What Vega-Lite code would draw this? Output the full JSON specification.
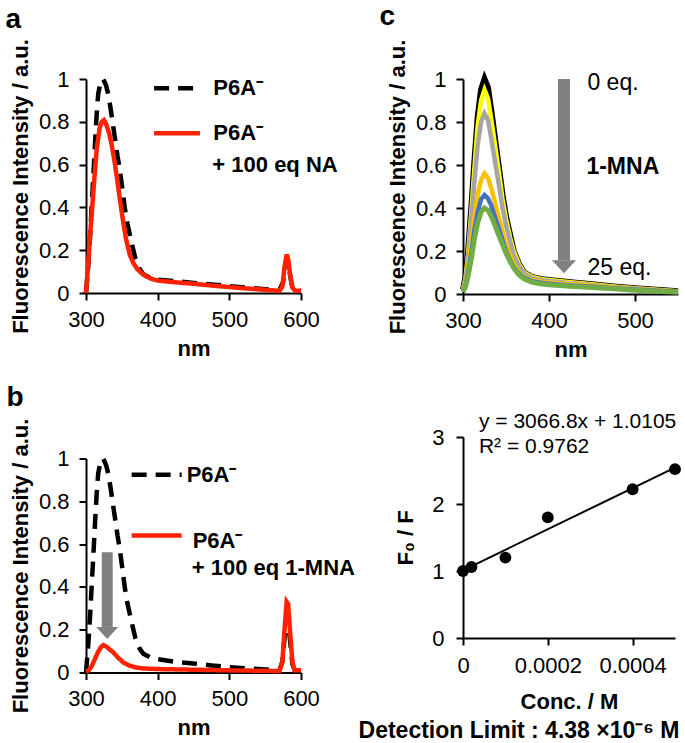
{
  "$schema": "https://vega.github.io/schema/vega-lite/v6.json",
  "padding": {"left": 5, "top": 3, "right": 0, "bottom": 0},
  "config": {
    "font": "Liberation Sans",
    "view": {"stroke": null},
    "axis": {"grid": false, "domainColor": "#000", "domainWidth": 2, "tickColor": "#000", "tickWidth": 2, "tickSize": 7, "labelFontSize": 22, "labelColor": "#000", "titleFontSize": 22, "titleFontWeight": "bold", "titleColor": "#000", "labelFont": "Liberation Sans", "titleFont": "Liberation Sans"},
    "axisX": {"labelPadding": 9, "titlePadding": 8, "labelFlush": false, "labelOverlap": false},
    "axisY": {"labelPadding": 10, "titlePadding": 6, "labelOverlap": false},
    "title": {"fontSize": 28, "fontWeight": "bold", "anchor": "start", "frame": "bounds", "color": "#000", "font": "Liberation Sans"},
    "text": {"font": "Liberation Sans", "color": "#000"}
  },
  "datasets": {
    "la": [
      {"s":"P6A","nm":300,"v":0},{"s":"P6A","nm":303,"v":0.12},{"s":"P6A","nm":306,"v":0.28},{"s":"P6A","nm":308,"v":0.41},{"s":"P6A","nm":310,"v":0.53},{"s":"P6A","nm":312.6,"v":0.7},{"s":"P6A","nm":315,"v":0.84},{"s":"P6A","nm":317,"v":0.93},{"s":"P6A","nm":320,"v":0.98},{"s":"P6A","nm":324,"v":1.0},{"s":"P6A","nm":328,"v":0.97},{"s":"P6A","nm":331,"v":0.93},{"s":"P6A","nm":334,"v":0.87},{"s":"P6A","nm":337,"v":0.8},{"s":"P6A","nm":341,"v":0.71},{"s":"P6A","nm":344,"v":0.64},{"s":"P6A","nm":347,"v":0.58},{"s":"P6A","nm":351,"v":0.48},{"s":"P6A","nm":354,"v":0.4},{"s":"P6A","nm":358,"v":0.32},{"s":"P6A","nm":364,"v":0.23},{"s":"P6A","nm":369,"v":0.16},{"s":"P6A","nm":375,"v":0.11},{"s":"P6A","nm":380,"v":0.088},{"s":"P6A","nm":390,"v":0.07},{"s":"P6A","nm":400,"v":0.062},{"s":"P6A","nm":425,"v":0.055},{"s":"P6A","nm":450,"v":0.047},{"s":"P6A","nm":475,"v":0.04},{"s":"P6A","nm":500,"v":0.032},{"s":"P6A","nm":525,"v":0.025},{"s":"P6A","nm":550,"v":0.018},{"s":"P6A","nm":570,"v":0.013},{"s":"P6A","nm":575,"v":0.05},{"s":"P6A","nm":578,"v":0.13},{"s":"P6A","nm":580,"v":0.16},{"s":"P6A","nm":583,"v":0.12},{"s":"P6A","nm":587,"v":0.04},{"s":"P6A","nm":590,"v":0.015},{"s":"P6A","nm":600,"v":0.01},
      {"s":"Q","nm":300,"v":0},{"s":"Q","nm":303,"v":0.13},{"s":"Q","nm":305,"v":0.24},{"s":"Q","nm":308,"v":0.37},{"s":"Q","nm":312,"v":0.55},{"s":"Q","nm":315,"v":0.675},{"s":"Q","nm":319,"v":0.77},{"s":"Q","nm":322,"v":0.8},{"s":"Q","nm":325,"v":0.808},{"s":"Q","nm":328,"v":0.79},{"s":"Q","nm":332,"v":0.75},{"s":"Q","nm":336,"v":0.69},{"s":"Q","nm":340,"v":0.61},{"s":"Q","nm":344,"v":0.52},{"s":"Q","nm":348,"v":0.42},{"s":"Q","nm":352,"v":0.33},{"s":"Q","nm":356,"v":0.25},{"s":"Q","nm":361,"v":0.18},{"s":"Q","nm":366,"v":0.14},{"s":"Q","nm":372,"v":0.11},{"s":"Q","nm":380,"v":0.085},{"s":"Q","nm":390,"v":0.068},{"s":"Q","nm":400,"v":0.058},{"s":"Q","nm":425,"v":0.05},{"s":"Q","nm":450,"v":0.043},{"s":"Q","nm":475,"v":0.035},{"s":"Q","nm":500,"v":0.028},{"s":"Q","nm":525,"v":0.021},{"s":"Q","nm":550,"v":0.015},{"s":"Q","nm":570,"v":0.01},{"s":"Q","nm":574,"v":0.03},{"s":"Q","nm":577,"v":0.12},{"s":"Q","nm":580,"v":0.18},{"s":"Q","nm":582,"v":0.16},{"s":"Q","nm":585,"v":0.08},{"s":"Q","nm":588,"v":0.025},{"s":"Q","nm":592,"v":0.01},{"s":"Q","nm":600,"v":0.01}
    ],
    "lb": [
      {"s":"P6A","nm":300,"v":0},{"s":"P6A","nm":303,"v":0.12},{"s":"P6A","nm":306,"v":0.28},{"s":"P6A","nm":308,"v":0.41},{"s":"P6A","nm":310,"v":0.53},{"s":"P6A","nm":312.6,"v":0.7},{"s":"P6A","nm":315,"v":0.84},{"s":"P6A","nm":317,"v":0.93},{"s":"P6A","nm":320,"v":0.98},{"s":"P6A","nm":324,"v":1.0},{"s":"P6A","nm":328,"v":0.97},{"s":"P6A","nm":331,"v":0.93},{"s":"P6A","nm":334,"v":0.87},{"s":"P6A","nm":337,"v":0.8},{"s":"P6A","nm":341,"v":0.71},{"s":"P6A","nm":344,"v":0.64},{"s":"P6A","nm":347,"v":0.58},{"s":"P6A","nm":351,"v":0.48},{"s":"P6A","nm":354,"v":0.4},{"s":"P6A","nm":358,"v":0.32},{"s":"P6A","nm":364,"v":0.23},{"s":"P6A","nm":369,"v":0.16},{"s":"P6A","nm":375,"v":0.11},{"s":"P6A","nm":380,"v":0.088},{"s":"P6A","nm":390,"v":0.07},{"s":"P6A","nm":400,"v":0.062},{"s":"P6A","nm":425,"v":0.05},{"s":"P6A","nm":450,"v":0.042},{"s":"P6A","nm":475,"v":0.033},{"s":"P6A","nm":500,"v":0.025},{"s":"P6A","nm":525,"v":0.019},{"s":"P6A","nm":550,"v":0.014},{"s":"P6A","nm":570,"v":0.012},{"s":"P6A","nm":574,"v":0.05},{"s":"P6A","nm":577,"v":0.16},{"s":"P6A","nm":580,"v":0.26},{"s":"P6A","nm":582,"v":0.25},{"s":"P6A","nm":585,"v":0.14},{"s":"P6A","nm":588,"v":0.04},{"s":"P6A","nm":591,"v":0.012},{"s":"P6A","nm":600,"v":0.01},
      {"s":"Q","nm":300,"v":0.005},{"s":"Q","nm":304,"v":0.01},{"s":"Q","nm":308,"v":0.03},{"s":"Q","nm":312,"v":0.06},{"s":"Q","nm":316,"v":0.09},{"s":"Q","nm":320,"v":0.115},{"s":"Q","nm":324,"v":0.128},{"s":"Q","nm":328,"v":0.122},{"s":"Q","nm":333,"v":0.108},{"s":"Q","nm":338,"v":0.094},{"s":"Q","nm":344,"v":0.072},{"s":"Q","nm":352,"v":0.047},{"s":"Q","nm":360,"v":0.033},{"s":"Q","nm":370,"v":0.023},{"s":"Q","nm":380,"v":0.019},{"s":"Q","nm":400,"v":0.016},{"s":"Q","nm":450,"v":0.013},{"s":"Q","nm":500,"v":0.01},{"s":"Q","nm":550,"v":0.008},{"s":"Q","nm":570,"v":0.007},{"s":"Q","nm":574,"v":0.05},{"s":"Q","nm":577,"v":0.2},{"s":"Q","nm":580,"v":0.33},{"s":"Q","nm":582,"v":0.32},{"s":"Q","nm":585,"v":0.18},{"s":"Q","nm":588,"v":0.05},{"s":"Q","nm":591,"v":0.01},{"s":"Q","nm":600,"v":0.01}
    ],
    "lc": [
      {"s":"k","nm":300,"v":0.02},{"s":"k","nm":303,"v":0.08},{"s":"k","nm":306,"v":0.2},{"s":"k","nm":310,"v":0.42},{"s":"k","nm":313,"v":0.6},{"s":"k","nm":317,"v":0.82},{"s":"k","nm":321,"v":0.95},{"s":"k","nm":325,"v":1.0},{"s":"k","nm":329,"v":0.96},{"s":"k","nm":333,"v":0.85},{"s":"k","nm":337,"v":0.73},{"s":"k","nm":342,"v":0.58},{"s":"k","nm":346,"v":0.46},{"s":"k","nm":350,"v":0.36},{"s":"k","nm":355,"v":0.27},{"s":"k","nm":359,"v":0.2},{"s":"k","nm":365,"v":0.14},{"s":"k","nm":371,"v":0.1},{"s":"k","nm":380,"v":0.08},{"s":"k","nm":390,"v":0.07},{"s":"k","nm":400,"v":0.065},{"s":"k","nm":425,"v":0.055},{"s":"k","nm":450,"v":0.045},{"s":"k","nm":475,"v":0.035},{"s":"k","nm":500,"v":0.027},{"s":"k","nm":525,"v":0.02},{"s":"k","nm":550,"v":0.013},
      {"s":"y","nm":300,"v":0.02},{"s":"y","nm":303,"v":0.075},{"s":"y","nm":306,"v":0.19},{"s":"y","nm":310,"v":0.4},{"s":"y","nm":313,"v":0.57},{"s":"y","nm":317,"v":0.78},{"s":"y","nm":321,"v":0.9},{"s":"y","nm":325,"v":0.95},{"s":"y","nm":329,"v":0.91},{"s":"y","nm":333,"v":0.81},{"s":"y","nm":337,"v":0.7},{"s":"y","nm":342,"v":0.56},{"s":"y","nm":346,"v":0.44},{"s":"y","nm":350,"v":0.35},{"s":"y","nm":355,"v":0.26},{"s":"y","nm":359,"v":0.2},{"s":"y","nm":365,"v":0.14},{"s":"y","nm":371,"v":0.1},{"s":"y","nm":380,"v":0.08},{"s":"y","nm":390,"v":0.07},{"s":"y","nm":400,"v":0.065},{"s":"y","nm":425,"v":0.055},{"s":"y","nm":450,"v":0.045},{"s":"y","nm":475,"v":0.035},{"s":"y","nm":500,"v":0.027},{"s":"y","nm":525,"v":0.02},{"s":"y","nm":550,"v":0.013},
      {"s":"g","nm":300,"v":0.02},{"s":"g","nm":303,"v":0.07},{"s":"g","nm":306,"v":0.17},{"s":"g","nm":310,"v":0.36},{"s":"g","nm":313,"v":0.51},{"s":"g","nm":317,"v":0.69},{"s":"g","nm":321,"v":0.8},{"s":"g","nm":325,"v":0.84},{"s":"g","nm":329,"v":0.81},{"s":"g","nm":333,"v":0.72},{"s":"g","nm":337,"v":0.62},{"s":"g","nm":342,"v":0.5},{"s":"g","nm":346,"v":0.4},{"s":"g","nm":350,"v":0.32},{"s":"g","nm":355,"v":0.24},{"s":"g","nm":359,"v":0.18},{"s":"g","nm":365,"v":0.13},{"s":"g","nm":371,"v":0.095},{"s":"g","nm":380,"v":0.075},{"s":"g","nm":390,"v":0.065},{"s":"g","nm":400,"v":0.06},{"s":"g","nm":425,"v":0.05},{"s":"g","nm":450,"v":0.042},{"s":"g","nm":475,"v":0.033},{"s":"g","nm":500,"v":0.026},{"s":"g","nm":525,"v":0.019},{"s":"g","nm":550,"v":0.012},
      {"s":"o","nm":300,"v":0.015},{"s":"o","nm":303,"v":0.05},{"s":"o","nm":306,"v":0.12},{"s":"o","nm":310,"v":0.25},{"s":"o","nm":313,"v":0.35},{"s":"o","nm":317,"v":0.46},{"s":"o","nm":321,"v":0.53},{"s":"o","nm":325,"v":0.56},{"s":"o","nm":329,"v":0.54},{"s":"o","nm":333,"v":0.49},{"s":"o","nm":337,"v":0.43},{"s":"o","nm":342,"v":0.35},{"s":"o","nm":346,"v":0.29},{"s":"o","nm":350,"v":0.23},{"s":"o","nm":355,"v":0.18},{"s":"o","nm":359,"v":0.14},{"s":"o","nm":365,"v":0.1},{"s":"o","nm":371,"v":0.08},{"s":"o","nm":380,"v":0.065},{"s":"o","nm":390,"v":0.058},{"s":"o","nm":400,"v":0.053},{"s":"o","nm":425,"v":0.045},{"s":"o","nm":450,"v":0.038},{"s":"o","nm":475,"v":0.03},{"s":"o","nm":500,"v":0.023},{"s":"o","nm":525,"v":0.017},{"s":"o","nm":550,"v":0.011},
      {"s":"b","nm":300,"v":0.012},{"s":"b","nm":303,"v":0.04},{"s":"b","nm":306,"v":0.1},{"s":"b","nm":310,"v":0.2},{"s":"b","nm":313,"v":0.29},{"s":"b","nm":317,"v":0.38},{"s":"b","nm":321,"v":0.44},{"s":"b","nm":325,"v":0.46},{"s":"b","nm":329,"v":0.445},{"s":"b","nm":333,"v":0.41},{"s":"b","nm":337,"v":0.36},{"s":"b","nm":342,"v":0.3},{"s":"b","nm":346,"v":0.25},{"s":"b","nm":350,"v":0.2},{"s":"b","nm":355,"v":0.155},{"s":"b","nm":359,"v":0.125},{"s":"b","nm":365,"v":0.095},{"s":"b","nm":371,"v":0.075},{"s":"b","nm":380,"v":0.06},{"s":"b","nm":390,"v":0.052},{"s":"b","nm":400,"v":0.048},{"s":"b","nm":425,"v":0.04},{"s":"b","nm":450,"v":0.034},{"s":"b","nm":475,"v":0.027},{"s":"b","nm":500,"v":0.021},{"s":"b","nm":525,"v":0.015},{"s":"b","nm":550,"v":0.01},
      {"s":"gr","nm":300,"v":0.01},{"s":"gr","nm":303,"v":0.035},{"s":"gr","nm":306,"v":0.085},{"s":"gr","nm":310,"v":0.17},{"s":"gr","nm":313,"v":0.25},{"s":"gr","nm":317,"v":0.33},{"s":"gr","nm":321,"v":0.38},{"s":"gr","nm":325,"v":0.4},{"s":"gr","nm":329,"v":0.39},{"s":"gr","nm":333,"v":0.36},{"s":"gr","nm":337,"v":0.32},{"s":"gr","nm":342,"v":0.27},{"s":"gr","nm":346,"v":0.23},{"s":"gr","nm":350,"v":0.19},{"s":"gr","nm":355,"v":0.15},{"s":"gr","nm":359,"v":0.12},{"s":"gr","nm":365,"v":0.09},{"s":"gr","nm":371,"v":0.07},{"s":"gr","nm":380,"v":0.055},{"s":"gr","nm":390,"v":0.047},{"s":"gr","nm":400,"v":0.043},{"s":"gr","nm":425,"v":0.036},{"s":"gr","nm":450,"v":0.03},{"s":"gr","nm":475,"v":0.024},{"s":"gr","nm":500,"v":0.018},{"s":"gr","nm":525,"v":0.013},{"s":"gr","nm":550,"v":0.008}
    ]
  },
  "spacing": 3,
  "hconcat": [
    {
      "bounds": "flush",
      "spacing": 165.5,
      "vconcat": [
        {
          "width": 215, "height": 214,
          "title": {"text": "a", "offset": 5, "dx": -4},
          "layer": [
            {
              "data": {"name": "la"},
              "mark": {"type": "line", "strokeWidth": 4.5},
              "encoding": {
                "x": {"field": "nm", "type": "quantitative", "title": "nm", "scale": {"domain": [300, 600], "nice": false}, "axis": {"values": [300, 400, 500, 600]}},
                "y": {"field": "v", "type": "quantitative", "title": "Fluorescence Intensity / a.u.", "scale": {"domain": [0, 1], "nice": false}, "axis": {"values": [0, 0.2, 0.4, 0.6, 0.8, 1], "format": "~g"}},
                "color": {"field": "s", "type": "nominal", "scale": {"domain": ["P6A", "Q"], "range": ["#000000", "#FF2200"]}, "legend": null},
                "strokeDash": {"field": "s", "type": "nominal", "scale": {"domain": ["P6A", "Q"], "range": [[15, 9], [1, 0]]}, "legend": null}
              }
            },
            {
              "data": {"values": [{"s": "P6A", "x1": 395, "x2": 459, "y": 0.957}, {"s": "Q", "x1": 395, "x2": 459, "y": 0.747}]},
              "mark": {"type": "rule", "strokeWidth": 4.5},
              "encoding": {
                "x": {"field": "x1", "type": "quantitative"},
                "x2": {"field": "x2"},
                "y": {"field": "y", "type": "quantitative"},
                "color": {"field": "s", "type": "nominal", "scale": {"domain": ["P6A", "Q"], "range": ["#000000", "#FF2200"]}, "legend": null},
                "strokeDash": {"field": "s", "type": "nominal", "scale": {"domain": ["P6A", "Q"], "range": [[15, 9], [1, 0]]}, "legend": null}
              }
            },
            {
              "data": {"values": [{"x": 477.7, "y": 0.957, "t": "P6A⁻"}, {"x": 477.7, "y": 0.747, "t": "P6A⁻"}, {"x": 476.3, "y": 0.6, "t": "+ 100 eq NA"}]},
              "mark": {"type": "text", "align": "left", "baseline": "middle", "fontSize": 22, "fontWeight": "bold"},
              "encoding": {
                "x": {"field": "x", "type": "quantitative"},
                "y": {"field": "y", "type": "quantitative"},
                "text": {"field": "t"}
              }
            }
          ]
        },
        {
          "width": 215, "height": 214,
          "title": {"text": "b", "offset": 6, "dx": -3},
          "layer": [
            {
              "data": {"name": "lb"},
              "mark": {"type": "line", "strokeWidth": 4.5},
              "encoding": {
                "x": {"field": "nm", "type": "quantitative", "title": "nm", "scale": {"domain": [300, 600], "nice": false}, "axis": {"values": [300, 400, 500, 600]}},
                "y": {"field": "v", "type": "quantitative", "title": "Fluorescence Intensity / a.u.", "scale": {"domain": [0, 1], "nice": false}, "axis": {"values": [0, 0.2, 0.4, 0.6, 0.8, 1], "format": "~g"}},
                "color": {"field": "s", "type": "nominal", "scale": {"domain": ["P6A", "Q"], "range": ["#000000", "#FF2200"]}, "legend": null},
                "strokeDash": {"field": "s", "type": "nominal", "scale": {"domain": ["P6A", "Q"], "range": [[15, 9], [1, 0]]}, "legend": null}
              }
            },
            {
              "data": {"values": [{"s": "P6A", "x1": 363.7, "x2": 433.5, "y": 0.924}, {"s": "Q", "x1": 363.7, "x2": 433.5, "y": 0.64}]},
              "mark": {"type": "rule", "strokeWidth": 4.5},
              "encoding": {
                "x": {"field": "x1", "type": "quantitative"},
                "x2": {"field": "x2"},
                "y": {"field": "y", "type": "quantitative"},
                "color": {"field": "s", "type": "nominal", "scale": {"domain": ["P6A", "Q"], "range": ["#000000", "#FF2200"]}, "legend": null},
                "strokeDash": {"field": "s", "type": "nominal", "scale": {"domain": ["P6A", "Q"], "range": [[15, 9], [1, 0]]}, "legend": null}
              }
            },
            {
              "data": {"values": [{"nm": 329.6, "top": 0.562, "base": 0.213, "head": 0.185}]},
              "mark": {"type": "rule", "strokeWidth": 11, "color": "#808080"},
              "encoding": {
                "x": {"field": "nm", "type": "quantitative"},
                "y": {"field": "top", "type": "quantitative"},
                "y2": {"field": "base"}
              }
            },
            {
              "data": {"values": [{"nm": 329.6, "top": 0.562, "base": 0.213, "head": 0.185}]},
              "mark": {"type": "point", "filled": true, "opacity": 1, "color": "#808080", "size": 484, "shape": "M-1,-0.545L1,-0.545L0,0.545Z"},
              "encoding": {
                "x": {"field": "nm", "type": "quantitative"},
                "y": {"field": "head", "type": "quantitative"}
              }
            },
            {
              "data": {"values": [{"x": 440.5, "y": 0.924, "t": "P6A⁻"}, {"x": 448.8, "y": 0.616, "t": "P6A⁻"}, {"x": 447.5, "y": 0.488, "t": "+ 100 eq 1-MNA"}]},
              "mark": {"type": "text", "align": "left", "baseline": "middle", "fontSize": 22, "fontWeight": "bold"},
              "encoding": {
                "x": {"field": "x", "type": "quantitative"},
                "y": {"field": "y", "type": "quantitative"},
                "text": {"field": "t"}
              }
            }
          ]
        }
      ]
    },
    {
      "bounds": "flush",
      "spacing": 143,
      "vconcat": [
        {
          "width": 215, "height": 215,
          "title": {"text": "c", "offset": 8, "dx": -7},
          "layer": [
            {
              "data": {"name": "lc"},
              "transform": [{"filter": "datum.s === 'k'"}],
              "mark": {"type": "line", "strokeWidth": 6, "color": "#000000"},
              "encoding": {
                "x": {"field": "nm", "type": "quantitative", "title": "nm", "scale": {"domain": [300, 550], "nice": false}, "axis": {"values": [300, 400, 500]}},
                "y": {"field": "v", "type": "quantitative", "title": "Fluorescence Intensity / a.u.", "scale": {"domain": [0, 1], "nice": false}, "axis": {"values": [0, 0.2, 0.4, 0.6, 0.8, 1], "format": "~g"}}
              }
            },
            {
              "data": {"name": "lc"},
              "transform": [{"filter": "datum.s === 'y'"}],
              "mark": {"type": "line", "strokeWidth": 4.5, "color": "#FFFF00"},
              "encoding": {"x": {"field": "nm", "type": "quantitative"}, "y": {"field": "v", "type": "quantitative"}}
            },
            {
              "data": {"name": "lc"},
              "transform": [{"filter": "datum.s === 'g'"}],
              "mark": {"type": "line", "strokeWidth": 4.5, "color": "#A5A5A5"},
              "encoding": {"x": {"field": "nm", "type": "quantitative"}, "y": {"field": "v", "type": "quantitative"}}
            },
            {
              "data": {"name": "lc"},
              "transform": [{"filter": "datum.s === 'o'"}],
              "mark": {"type": "line", "strokeWidth": 4.5, "color": "#FFC000"},
              "encoding": {"x": {"field": "nm", "type": "quantitative"}, "y": {"field": "v", "type": "quantitative"}}
            },
            {
              "data": {"name": "lc"},
              "transform": [{"filter": "datum.s === 'b'"}],
              "mark": {"type": "line", "strokeWidth": 4.5, "color": "#4472C4"},
              "encoding": {"x": {"field": "nm", "type": "quantitative"}, "y": {"field": "v", "type": "quantitative"}}
            },
            {
              "data": {"name": "lc"},
              "transform": [{"filter": "datum.s === 'gr'"}],
              "mark": {"type": "line", "strokeWidth": 5, "color": "#70AD47"},
              "encoding": {"x": {"field": "nm", "type": "quantitative"}, "y": {"field": "v", "type": "quantitative"}}
            },
            {
              "data": {"values": [{"nm": 417.4, "top": 1.0, "base": 0.157, "head": 0.127}]},
              "mark": {"type": "rule", "strokeWidth": 12, "color": "#808080"},
              "encoding": {
                "x": {"field": "nm", "type": "quantitative"},
                "y": {"field": "top", "type": "quantitative"},
                "y2": {"field": "base"}
              }
            },
            {
              "data": {"values": [{"nm": 417.4, "top": 1.0, "base": 0.157, "head": 0.127}]},
              "mark": {"type": "point", "filled": true, "opacity": 1, "color": "#808080", "size": 576, "shape": "M-1,-0.54L1,-0.54L0,0.54Z"},
              "encoding": {
                "x": {"field": "nm", "type": "quantitative"},
                "y": {"field": "head", "type": "quantitative"}
              }
            },
            {
              "data": {"values": [{"x": 444.7, "y": 0.981, "t": "0 eq."}, {"x": 444.7, "y": 0.122, "t": "25 eq."}]},
              "mark": {"type": "text", "align": "left", "baseline": "middle", "fontSize": 23},
              "encoding": {
                "x": {"field": "x", "type": "quantitative"},
                "y": {"field": "y", "type": "quantitative"},
                "text": {"field": "t"}
              }
            },
            {
              "data": {"values": [{"x": 443.5, "y": 0.59, "t": "1-MNA"}]},
              "mark": {"type": "text", "align": "left", "baseline": "middle", "fontSize": 23, "fontWeight": "bold"},
              "encoding": {
                "x": {"field": "x", "type": "quantitative"},
                "y": {"field": "y", "type": "quantitative"},
                "text": {"field": "t"}
              }
            }
          ]
        },
        {
          "width": 212, "height": 201,
          "title": {"text": "Detection Limit : 4.38 ×10⁻⁶ M", "orient": "bottom", "anchor": "middle", "frame": "group", "fontSize": 23, "dx": -50, "offset": 8},
          "layer": [
            {
              "data": {"values": [{"c": 0, "r": 1.0105}, {"c": 0.0005, "r": 2.5439}]},
              "mark": {"type": "line", "strokeWidth": 2, "color": "#000000"},
              "encoding": {
                "x": {"field": "c", "type": "quantitative", "title": "Conc. / M", "scale": {"domain": [0, 0.0005], "nice": false}, "axis": {"values": [0, 0.0002, 0.0004], "format": "~g", "titlePadding": 15, "labelPadding": 10}},
                "y": {"field": "r", "type": "quantitative", "title": "F₀ / F", "scale": {"domain": [0, 3], "nice": false}, "axis": {"values": [0, 1, 2, 3], "format": "~g", "titlePadding": 14, "labelPadding": 12}}
              }
            },
            {
              "data": {"values": [{"c": 0, "r": 1.0}, {"c": 0.00002, "r": 1.06}, {"c": 0.0001, "r": 1.2}, {"c": 0.0002, "r": 1.8}, {"c": 0.0004, "r": 2.22}, {"c": 0.0005, "r": 2.52}]},
              "mark": {"type": "circle", "size": 140, "color": "#000000", "opacity": 1},
              "encoding": {
                "x": {"field": "c", "type": "quantitative"},
                "y": {"field": "r", "type": "quantitative"}
              }
            },
            {
              "data": {"values": [{"c": 0.0000376, "r": 3.22, "t": "y = 3066.8x + 1.0105"}, {"c": 0.0000376, "r": 2.85, "t": "R² = 0.9762"}]},
              "mark": {"type": "text", "align": "left", "baseline": "middle", "fontSize": 21},
              "encoding": {
                "x": {"field": "c", "type": "quantitative"},
                "y": {"field": "r", "type": "quantitative"},
                "text": {"field": "t"}
              }
            }
          ]
        }
      ]
    }
  ]
}
